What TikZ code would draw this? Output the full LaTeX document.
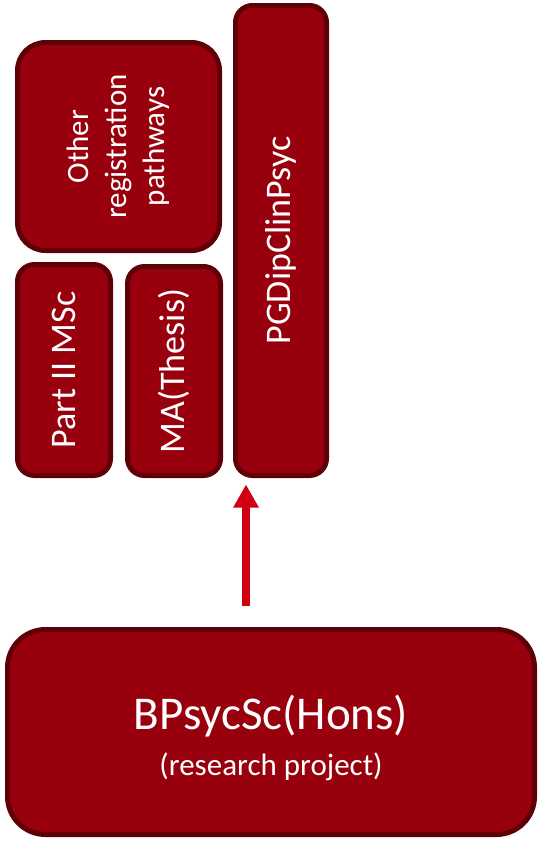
\documentclass[tikz,border=0pt]{standalone}
\usepackage{fontspec}
\setmainfont{Carlito}
\usetikzlibrary{arrows.meta}
\definecolor{boxfill}{RGB}{153,0,13}
\definecolor{boxline}{RGB}{94,0,6}
\definecolor{arrowred}{RGB}{208,0,16}
\begin{document}
\begin{tikzpicture}[x=1pt,y=-1pt,
  box/.style={draw=boxline, fill=boxfill, line width=5pt, text=white, inner sep=0pt, align=center},
  colbox/.style={box, rotate=90, rounded corners=17pt, font=\fontsize{36}{43}\selectfont},
  arr/.style={draw=arrowred, line width=8pt, -{Triangle[width=24pt,length=23pt]}}]
\useasboundingbox (0,0) rectangle (539,841);
\node[box, rotate=90, rounded corners=28pt, minimum width=208pt, minimum height=202pt,
  font=\fontsize{31}{38}\selectfont] (other) at (118.5,146.5) {Other\\registration\\pathways};
\node[colbox, minimum width=470pt, minimum height=91pt] (pg) at (281,240.5) {PGDipClinPsyc};
\node[colbox, minimum width=211pt, minimum height=93pt] (msc) at (64,370) {Part II MSc};
\node[colbox, minimum width=209pt, minimum height=93pt] (ma) at (174,371) {MA(Thesis)};
\node[box, rounded corners=38pt, minimum width=527pt, minimum height=205pt] (bp) at (271,732) {};
\node[text=white, align=center, inner sep=0pt] (bptext) at (271,738)
  {{\fontsize{47}{47}\selectfont BPsycSc(Hons)}\\[14pt]{\fontsize{31}{31}\selectfont (research project)}};
\coordinate (ax) at (246,0);
\draw[arr, shorten <=21.5pt, shorten >=6.5pt] (bp.north -| ax) -- (pg.west -| ax);
\end{tikzpicture}
\end{document}
